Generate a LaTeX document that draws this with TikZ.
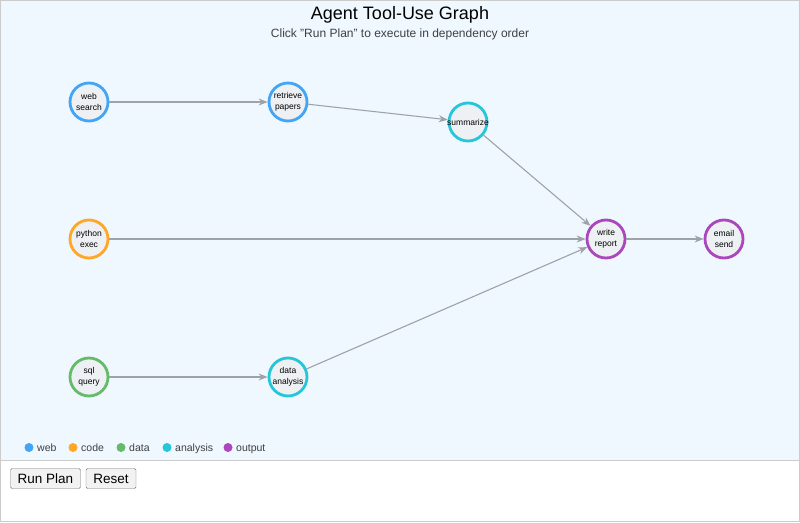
\documentclass[tikz,border=0pt]{standalone}
\usepackage{fontspec}
\setmainfont{Liberation Sans}
\usetikzlibrary{arrows.meta}
\definecolor{webc}{HTML}{42A5F5}
\definecolor{codec}{HTML}{FFA726}
\definecolor{datac}{HTML}{66BB6A}
\definecolor{anac}{HTML}{26C6DA}
\definecolor{outc}{HTML}{AB47BC}
\definecolor{panel}{HTML}{EFF7FF}
\definecolor{nodefill}{HTML}{EEF1F4}
\definecolor{edgec}{HTML}{9EA3A8}
\begin{document}
\begin{tikzpicture}[x=1pt,y=-1pt,
tool/.style={draw,circle,line width=2.8pt,fill=nodefill,minimum size=38pt,inner sep=0pt,
  align=center,font=\fontsize{8.5}{11}\selectfont},
dep/.style={draw=edgec,line width=1.1pt,-{Stealth[length=9pt,width=7pt]}},
dot/.style={circle,inner sep=0pt,minimum size=9pt},
leg/.style={font=\fontsize{10.5}{12}\selectfont,text=black!75,anchor=base west,inner sep=0pt},
btn/.style={draw=black!55,fill=black!5,rounded corners=1.5pt,minimum height=20pt,minimum width=#1,
  font=\fontsize{13.5}{15}\selectfont}]
\useasboundingbox (0,0) rectangle (800,522);
\fill[panel] (0,0) rectangle (800,460);
\draw[black!20,line width=1pt] (0,460) -- (800,460);
\draw[black!20,line width=1pt] (0.5,0.5) rectangle (799.5,521.5);
\node (title) at (400,15) {\fontsize{18}{21}\selectfont Agent Tool-Use Graph};
\node (sub) at (400,34) {\fontsize{12}{14}\selectfont\color{black!75}Click "Run Plan" to execute in dependency order};
% tools
\node (web) [tool,draw=webc] at (89,102) {web\\search};
\node (papers) [tool,draw=webc] at (288,102) {retrieve\\papers};
\node (summ) [tool,draw=anac,inner sep=-4pt] at (468,122) {summarize};
\node (python) [tool,draw=codec] at (89,239) {python\\exec};
\node (report) [tool,draw=outc] at (606,239) {write\\report};
\node (email) [tool,draw=outc] at (724,239) {email\\send};
\node (sql) [tool,draw=datac] at (89,377) {sql\\query};
\node (ana) [tool,draw=anac] at (288,377) {data\\analysis};
% dependencies
\draw[dep] (web) -- (papers);
\draw[dep] (papers) -- (summ);
\draw[dep] (summ) -- (report);
\draw[dep] (python) -- (report);
\draw[dep] (sql) -- (ana);
\draw[dep] (ana) -- (report);
\draw[dep] (report) -- (email);
% legend
\node (d1) [dot,fill=webc] at (29,447.5) {};
\node [leg] at (37,451) {web};
\node (d2) [dot,fill=codec] at (73,447.5) {};
\node [leg] at (81,451) {code};
\node (d3) [dot,fill=datac] at (121,447.5) {};
\node [leg] at (129,451) {data};
\node (d4) [dot,fill=anac] at (167,447.5) {};
\node [leg] at (175,451) {analysis};
\node (d5) [dot,fill=outc] at (228,447.5) {};
\node [leg] at (236,451) {output};
% buttons
\node (run) [btn=70pt] at (45.5,478.5) {Run Plan};
\node (reset) [btn=50pt] at (111,478.5) {Reset};
\end{tikzpicture}
\end{document}
